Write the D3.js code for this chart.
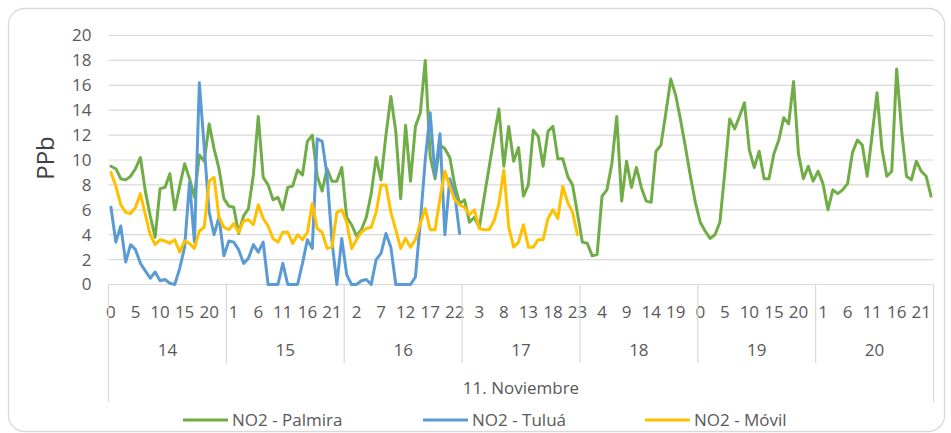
<!DOCTYPE html>
<html>
<head>
<meta charset="utf-8">
<script src="https://cdn.jsdelivr.net/npm/d3@7"></script>
<style>
	body { margin: 0; background: #fff; }
	svg text { font-family: "Open Sans", "Noto Sans", sans-serif; fill: #595959; }
</style>
</head>
<body>
<div id="main"></div>
<script>
// Days of november and the hour labels under them
var days = [14, 15, 16, 17, 18, 19, 20];
var hoursPerDay = 24;
var monthLabel = '11. Noviembre';
var yTicks = [0, 2, 4, 6, 8, 10, 12, 14, 16, 18, 20];
var seriesNames = ['NO2 - Palmira', 'NO2 - Tuluá', 'NO2 - Móvil'];

// Hourly NO2 (ppb), one value per hour starting day 14 hour 0
var palmira = [
	9.5, 9.3, 8.5, 8.4, 8.7, 9.3, 10.2, 7.5, 5.5, 3.8, 7.7, 7.8, 8.9, 6.0, 7.9, 9.7, 8.5, 7.0, 10.4, 9.9, 12.9, 10.9, 9.3, 6.9,
	6.3, 6.2, 4.1, 5.5, 6.1, 8.8, 13.5, 8.6, 8.0, 6.8, 7.0, 6.0, 7.8, 7.9, 9.2, 8.8, 11.5, 12.0, 8.7, 7.5, 9.3, 8.3, 8.3, 9.4,
	5.4, 4.8, 3.9, 4.4, 5.4, 7.3, 10.2, 8.4, 12.0, 15.1, 12.3, 6.9, 12.8, 8.3, 12.7, 13.8, 18.0, 10.3, 8.5, 11.2, 10.9, 10.2, 8.0, 6.5,
	6.8, 5.0, 5.4, 4.6, 7.0, 9.4, 11.8, 14.1, 9.5, 12.7, 9.9, 11.0, 7.1, 8.0, 12.4, 11.9, 9.5, 12.3, 12.7, 10.1, 10.1, 8.7, 8.0, 5.7,
	3.4, 3.3, 2.3, 2.4, 7.1, 7.6, 9.7, 13.5, 6.7, 9.9, 7.8, 9.4, 7.8, 6.7, 6.6, 10.7, 11.2, 13.8, 16.5, 15.2, 13.2, 11.0, 8.7, 6.6,
	5.0, 4.3, 3.7, 4.0, 5.0, 9.0, 13.3, 12.5, 13.5, 14.6, 10.8, 9.4, 10.7, 8.5, 8.5, 10.5, 11.6, 13.4, 12.9, 16.3, 10.5, 8.5, 9.5, 8.3,
	9.1, 8.1, 6.0, 7.6, 7.3, 7.6, 8.1, 10.6, 11.6, 11.2, 8.7, 12.0, 15.4, 10.9, 8.7, 9.1, 17.3, 12.4, 8.7, 8.4, 9.9, 9.1, 8.7, 7.1
];
var tulua = [
	6.2, 3.4, 4.7, 1.8, 3.2, 2.8, 1.7, 1.1, 0.5, 1.0, 0.3, 0.4, 0.1, 0.0, 1.3, 3.0, 8.2, 3.4, 16.2, 11.0, 5.8, 4.0, 5.4, 2.3,
	3.5, 3.4, 2.8, 1.7, 2.1, 3.2, 2.6, 3.4, 0.0, 0.0, 0.0, 1.7, 0.0, 0.0, 0.0, 1.7, 3.6, 2.9, 11.7, 11.5, 8.8, 3.5, 0.0, 3.7,
	0.8, 0.0, 0.0, 0.3, 0.4, 0.0, 2.0, 2.5, 4.1, 3.0, 0.0, 0.0, 0.0, 0.0, 0.6, 5.0, 10.0, 13.8, 8.7, 12.1, 4.0, 8.5, 7.3, 4.1
];
var movil = [
	9.0, 7.9, 6.4, 5.8, 5.7, 6.2, 7.3, 5.6, 4.0, 3.2, 3.6, 3.5, 3.3, 3.6, 2.6, 3.5, 3.3, 2.9, 4.3, 4.6, 8.3, 8.6, 5.4, 4.6,
	4.4, 4.9, 4.2, 5.1, 5.2, 4.8, 6.4, 5.3, 4.7, 3.7, 3.4, 4.2, 4.2, 3.3, 4.0, 3.6, 4.2, 6.5, 4.5, 4.2, 2.9, 3.0, 5.8, 6.0,
	5.0, 2.9, 3.6, 4.2, 4.5, 4.6, 5.8, 8.0, 8.0, 5.8, 4.4, 2.9, 3.7, 3.0, 3.6, 4.9, 6.1, 4.4, 4.4, 6.9, 9.1, 7.9, 6.8, 6.4,
	6.2, 5.6, 6.0, 4.5, 4.4, 4.4, 5.1, 6.5, 9.2, 4.6, 3.0, 3.4, 4.8, 3.0, 3.0, 3.6, 3.6, 5.3, 6.0, 5.3, 7.9, 6.6, 5.8, 4.0
];

var svgWidth = 951, svgHeight = 433;
var colors = ['#70ad47', '#5b9bd5', '#ffc000'];
var allSeries = [palmira, tulua, movil];

var svg = d3.select('#main').append('svg')
			.attr('width', svgWidth)
			.attr('height', svgHeight);

// chart frame
svg.append('rect')
	.attr('x', 8.5).attr('y', 8.5)
	.attr('width', 936).attr('height', 423)
	.attr('rx', 16)
	.attr('fill', '#fff')
	.attr('stroke', '#d9d9d9')
	.attr('stroke-width', 1.3);

var nHours = days.length * hoursPerDay;
var plotLeft = 108.5, plotRight = 933.5, plotBottom = 284.5, plotTop = 35.5;

var x = d3.scaleBand().domain(d3.range(nHours)).range([plotLeft, plotRight]);
var y = d3.scaleLinear().domain([0, 20]).range([plotBottom, plotTop]);
var cx = function(i){ return x(i) + x.bandwidth() / 2; };

// horizontal grid
svg.append('g')
	.selectAll('line')
	.data(yTicks)
	.enter()
	.append('line')
	.attr('x1', plotLeft).attr('x2', plotRight)
	.attr('y1', function(d){ return y(d); })
	.attr('y2', function(d){ return y(d); })
	.attr('stroke', '#d9d9d9')
	.attr('stroke-width', 1.2);

// y axis labels
var yAxis = svg.append('g')
	.attr('transform', 'translate(' + plotLeft + ',0)')
	.call(d3.axisLeft(y).tickValues(yTicks).tickSize(0).tickPadding(17));
yAxis.select('.domain').remove();
yAxis.attr('font-size', 17).attr('font-family', null);

svg.append('text')
	.text('PPb')
	.attr('transform', 'translate(54,158) rotate(-90)')
	.attr('text-anchor', 'middle')
	.style('font-size', '24px')
	.style('fill', '#404040');

// hour labels (every 5 hours)
var hourAxis = svg.append('g')
	.attr('transform', 'translate(0,' + plotBottom + ')')
	.call(d3.axisBottom(x)
		.tickValues(d3.range(0, nHours, 5))
		.tickFormat(function(i){ return i % hoursPerDay; })
		.tickSize(0)
		.tickPadding(21));
hourAxis.select('.domain').remove();
hourAxis.attr('font-size', 17).attr('font-family', null);

// day separators, the outer ones run down to the month row
var dayWidth = (plotRight - plotLeft) / days.length;
svg.append('g')
	.selectAll('line')
	.data(d3.range(days.length + 1))
	.enter()
	.append('line')
	.attr('x1', function(d){ return plotLeft + d * dayWidth; })
	.attr('x2', function(d){ return plotLeft + d * dayWidth; })
	.attr('y1', plotBottom)
	.attr('y2', function(d){ return (d == 0 || d == days.length) ? 402 : 363; })
	.attr('stroke', '#d9d9d9')
	.attr('stroke-width', 1.2);

svg.append('g')
	.selectAll('text')
	.data(days)
	.enter()
	.append('text')
	.text(function(d){ return d; })
	.attr('x', function(d, i){ return plotLeft + (i + 0.5) * dayWidth; })
	.attr('y', 356)
	.attr('text-anchor', 'middle')
	.style('font-size', '17px');

svg.append('text')
	.text(monthLabel)
	.attr('x', (plotLeft + plotRight) / 2)
	.attr('y', 394)
	.attr('text-anchor', 'middle')
	.style('font-size', '17px');

// series lines
var line = d3.line()
	.x(function(d, i){ return cx(i); })
	.y(function(d){ return y(d); });

svg.append('g')
	.selectAll('path')
	.data(allSeries)
	.enter()
	.append('path')
	.attr('d', line)
	.attr('fill', 'none')
	.attr('stroke', function(d, i){ return colors[i]; })
	.attr('stroke-width', 3)
	.attr('stroke-linejoin', 'round')
	.attr('stroke-linecap', 'round');

// legend
var legendX = [183, 423, 645];
var legend = svg.append('g')
	.selectAll('g')
	.data(seriesNames)
	.enter()
	.append('g')
	.attr('transform', function(d, i){ return 'translate(' + legendX[i] + ',420)'; });

legend.append('line')
	.attr('x1', 0).attr('x2', 45)
	.attr('stroke', function(d, i){ return colors[i]; })
	.attr('stroke-width', 3);

legend.append('text')
	.text(function(d){ return d; })
	.attr('x', 49)
	.attr('dy', '0.36em')
	.style('font-size', '17px');
</script>
</body>
</html>
